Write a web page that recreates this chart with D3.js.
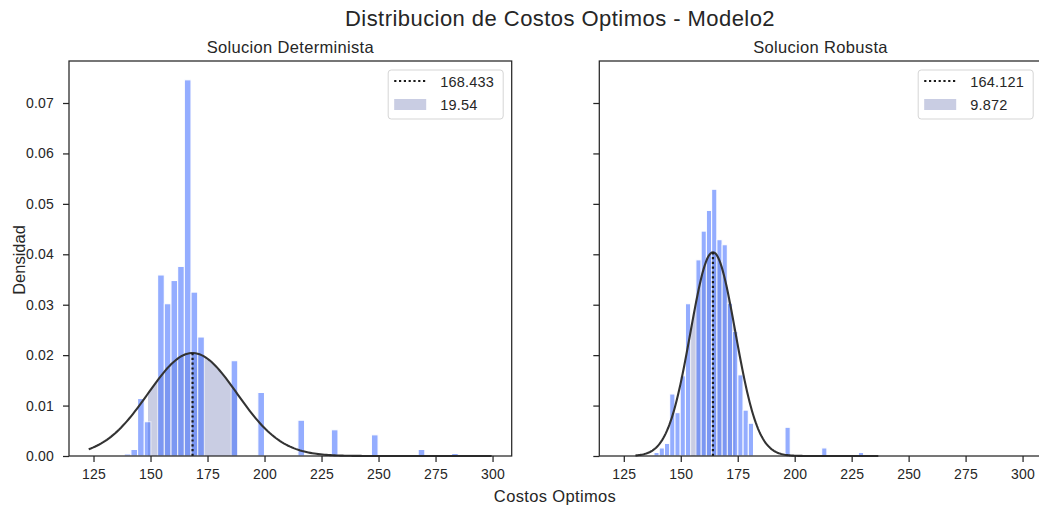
<!DOCTYPE html>
<html>
<head>
<meta charset="utf-8">
<script src="https://cdn.jsdelivr.net/npm/d3@7"></script>
<style>
  html, body { margin: 0; padding: 0; background: #ffffff; }
  svg { display: block; font-family: "Liberation Sans", Arial, sans-serif; }
</style>
</head>
<body>
<svg id="chart" width="1039" height="508"></svg>
<script>
// Histogram bins (left edge of each non-empty bin) and their densities
const detBinStart = [138.46, 141.39, 144.32, 147.25, 153.11, 156.04, 158.97, 161.90, 164.83,
                     167.76, 170.69, 185.34, 197.06, 214.64, 229.29, 246.87, 267.38, 282.03];
const detDensity  = [0.0004, 0.0013, 0.0114, 0.0068, 0.0359, 0.0302, 0.0348, 0.0376, 0.0746,
                     0.0325, 0.0236, 0.0189, 0.0126, 0.0071, 0.0052, 0.0042, 0.0013, 0.0005];
const detBinWidth = 2.93;

const robBinStart = [138.24, 140.54, 142.84, 145.14, 147.44, 149.74, 152.04, 156.64, 158.94,
                     161.24, 163.54, 165.84, 168.14, 170.44, 172.74, 175.04, 177.34, 179.64,
                     195.74, 211.84, 227.94];
const robDensity  = [0.0007, 0.0016, 0.0025, 0.0123, 0.0086, 0.0159, 0.0302, 0.0389, 0.0446,
                     0.0487, 0.0529, 0.0429, 0.0419, 0.0303, 0.0247, 0.0161, 0.0091, 0.0065,
                     0.0057, 0.0016, 0.0007];
const robBinWidth = 2.30;

// Fitted normal parameters (mean, standard deviation) and the span of each fitted curve
const detMean = 168.433, detStd = 19.54, detCurveRange = [122.9, 299.6];
const robMean = 164.121, robStd = 9.872, robCurveRange = [130.1, 236.7];

// Axis ticks and text
const xTicks = [125, 150, 175, 200, 225, 250, 275, 300];
const yTicks = [0, 0.01, 0.02, 0.03, 0.04, 0.05, 0.06, 0.07];
const panelTitles = ["Solucion Determinista", "Solucion Robusta"];
const figTitle = "Distribucion de Costos Optimos - Modelo2";
const xLabel = "Costos Optimos";
const yLabel = "Densidad";

const svg = d3.select("#chart");
const ink = "#262626";
const shadeColor = "#c9cde3";
const barColor = "#3d6bff";

const plotTop = 61, plotBottom = 456;
const panels = [
  { left: 69,    right: 511.7,  bins: detBinStart, dens: detDensity, bw: detBinWidth,
    mean: detMean, sd: detStd, range: detCurveRange, title: panelTitles[0], labels: true },
  { left: 599.3, right: 1041.7, bins: robBinStart, dens: robDensity, bw: robBinWidth,
    mean: robMean, sd: robStd, range: robCurveRange, title: panelTitles[1], labels: false }
];

const y = d3.scaleLinear().domain([0, 0.07833]).range([plotBottom, plotTop]);
const pdf = (v, m, s) => Math.exp(-0.5 * ((v - m) / s) ** 2) / (s * Math.sqrt(2 * Math.PI));

panels.forEach(p => {
  const x = d3.scaleLinear().domain([114.25, 308.4]).range([p.left, p.right]);
  const g = svg.append("g");

  // shaded band: mean ± one standard deviation under the fitted curve
  const band = d3.range(p.mean - p.sd, p.mean + p.sd + 1e-9, p.sd / 60);
  g.append("path")
    .datum(band)
    .attr("d", d3.area().x(v => x(v)).y0(y(0)).y1(v => y(pdf(v, p.mean, p.sd))))
    .attr("fill", shadeColor);

  // histogram bars
  g.selectAll("rect.bar")
    .data(p.bins.map((b, i) => ({ x0: b, d: p.dens[i] })))
    .join("rect")
    .attr("class", "bar")
    .attr("x", d => x(d.x0))
    .attr("width", d => x(d.x0 + p.bw) - x(d.x0))
    .attr("y", d => y(d.d))
    .attr("height", d => y(0) - y(d.d))
    .attr("fill", barColor)
    .attr("stroke", "#ffffff")
    .attr("stroke-width", 1.1)
    .attr("opacity", 0.55);

  // fitted normal curve
  const curve = d3.range(p.range[0], p.range[1] + 1e-9, (p.range[1] - p.range[0]) / 200);
  g.append("path")
    .datum(curve)
    .attr("d", d3.line().x(v => x(v)).y(v => y(pdf(v, p.mean, p.sd))))
    .attr("fill", "none")
    .attr("stroke", "#333333")
    .attr("stroke-width", 2.1);

  // dotted line at the mean
  g.append("line")
    .attr("x1", x(p.mean)).attr("x2", x(p.mean))
    .attr("y1", y(0)).attr("y2", y(pdf(p.mean, p.mean, p.sd)))
    .attr("stroke", "#1a1a1a")
    .attr("stroke-width", 2.2)
    .attr("stroke-dasharray", "2.2,2.6");

  // axes
  const xAxis = g.append("g")
    .attr("transform", `translate(0,${plotBottom})`)
    .call(d3.axisBottom(x).tickValues(xTicks).tickSize(6).tickPadding(7).tickFormat(d3.format("d")));
  const yAxis = g.append("g")
    .attr("transform", `translate(${p.left},0)`)
    .call(d3.axisLeft(y).tickValues(yTicks).tickSize(6).tickPadding(9)
      .tickFormat(p.labels ? d3.format(".2f") : () => ""));
  [xAxis, yAxis].forEach(a => {
    a.select(".domain").remove();
    a.selectAll(".tick line").attr("stroke", ink).attr("stroke-width", 1.25);
    a.selectAll(".tick text").attr("fill", ink).style("font-size", "14px")
      .style("font-family", "'Liberation Sans', Arial, sans-serif")
      .style("letter-spacing", "0.2px");
  });

  // frame
  g.append("rect")
    .attr("x", p.left).attr("y", plotTop)
    .attr("width", p.right - p.left).attr("height", plotBottom - plotTop)
    .attr("fill", "none").attr("stroke", ink).attr("stroke-width", 1.25);

  // panel title
  g.append("text")
    .attr("x", (p.left + p.right) / 2).attr("y", 53)
    .attr("text-anchor", "middle")
    .attr("fill", ink).style("font-size", "16.5px")
    .style("letter-spacing", "0.33px")
    .text(p.title);

  // legend
  const lx = p.right - 123.5, ly = 70;
  const lg = g.append("g").attr("transform", `translate(${lx},${ly})`);
  lg.append("rect")
    .attr("width", 115).attr("height", 49).attr("rx", 3)
    .attr("fill", "#ffffff").attr("fill-opacity", 0.8)
    .attr("stroke", "#d5d5d5").attr("stroke-width", 1);
  lg.append("line")
    .attr("x1", 6).attr("x2", 38).attr("y1", 11).attr("y2", 11)
    .attr("stroke", "#1a1a1a").attr("stroke-width", 2.2).attr("stroke-dasharray", "2.2,2.6");
  lg.append("rect")
    .attr("x", 6).attr("y", 29).attr("width", 32).attr("height", 11)
    .attr("fill", shadeColor);
  lg.append("text").attr("x", 52).attr("y", 16.5).attr("fill", ink)
    .style("font-size", "14.5px").style("letter-spacing", "0.2px").text(String(p.mean));
  lg.append("text").attr("x", 52).attr("y", 39.5).attr("fill", ink)
    .style("font-size", "14.5px").style("letter-spacing", "0.2px").text(String(p.sd));
});

// figure title and shared axis labels
svg.append("text")
  .attr("x", 560).attr("y", 25.5)
  .attr("text-anchor", "middle").attr("fill", ink)
  .style("font-size", "22px")
  .style("letter-spacing", "0.45px")
  .text(figTitle);

svg.append("text")
  .attr("x", 555).attr("y", 502)
  .attr("text-anchor", "middle").attr("fill", ink)
  .style("font-size", "16.5px")
  .style("letter-spacing", "0.35px")
  .text(xLabel);

svg.append("text")
  .attr("transform", "translate(24.5,260) rotate(-90)")
  .attr("text-anchor", "middle").attr("fill", ink)
  .style("font-size", "16.5px")
  .text(yLabel);
</script>
</body>
</html>
